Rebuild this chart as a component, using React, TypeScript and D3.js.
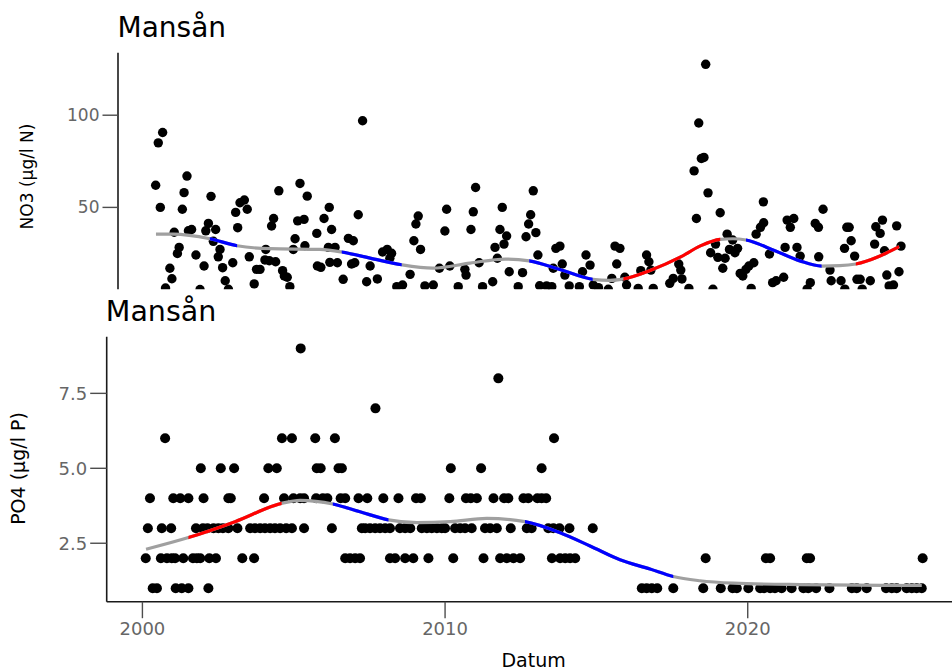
import React, { useEffect, useRef } from 'react';
import * as d3 from 'd3';

// NO3 samples: [decimal year, µg/l N]
const no3Points: [number, number][] = [
  [2000.12, 62], [2000.21, 85], [2000.28, 50], [2000.36, 90.6], [2000.46, 6.3], [2000.61, 17],
  [2000.68, 11.3], [2000.76, 36.5], [2000.87, 25], [2000.93, 28.3], [2001.04, 49], [2001.1, 58],
  [2001.2, 67], [2001.25, 37.3], [2001.36, 38], [2001.51, 24.2], [2001.65, 5.5], [2001.79, 18.2],
  [2001.85, 37.3], [2001.94, 41.3], [2002.03, 56], [2002.11, 31.6], [2002.19, 38], [2002.28, 23.2],
  [2002.34, 27.2], [2002.43, 17.3], [2002.52, 10.2], [2002.63, 5.6], [2002.78, 20], [2002.88, 47.3],
  [2002.95, 39], [2003.03, 52.5], [2003.18, 54], [2003.28, 49], [2003.35, 23.2], [2003.52, 8.5],
  [2003.6, 16.4], [2003.72, 16.4], [2003.89, 21.5], [2003.92, 27.2], [2004.04, 21.1], [2004.12, 39.9],
  [2004.19, 44], [2004.26, 20.5], [2004.37, 59], [2004.5, 15.7], [2004.56, 12.8], [2004.66, 12.1],
  [2004.75, 7], [2004.87, 27.2], [2004.93, 33], [2005.02, 42.7], [2005.1, 63], [2005.24, 43.5],
  [2005.27, 29.2], [2005.35, 56.1], [2005.68, 35.9], [2005.7, 18.2], [2005.82, 17.5], [2005.93, 44],
  [2006.08, 28.3], [2006.11, 50], [2006.13, 20.2], [2006.19, 38], [2006.31, 28.3], [2006.39, 20],
  [2006.59, 11], [2006.77, 33.2], [2006.88, 19.3], [2006.94, 31.9], [2006.99, 20], [2007.11, 46],
  [2007.26, 97], [2007.4, 9.7], [2007.52, 18.2], [2007.77, 11.2], [2007.95, 25.8], [2008.11, 27.2],
  [2008.2, 22.4], [2008.26, 25.1], [2008.44, 7], [2008.64, 7.9], [2008.9, 13.7], [2009.03, 31.9],
  [2009.1, 41], [2009.18, 45.3], [2009.26, 27.2], [2009.41, 7.4], [2009.7, 7.9], [2009.91, 17],
  [2010.1, 37.2], [2010.16, 49], [2010.27, 18.2], [2010.56, 7], [2010.79, 16.4], [2010.83, 13.3],
  [2011.0, 38], [2011.08, 47.6], [2011.16, 60.8], [2011.28, 20], [2011.4, 7], [2011.75, 9.7],
  [2011.83, 28.3], [2011.91, 22.4], [2012.0, 38], [2012.08, 50], [2012.14, 30.1], [2012.23, 34.5],
  [2012.32, 15.1], [2012.63, 7], [2012.78, 14.6], [2012.9, 34.1], [2012.99, 41], [2013.06, 46],
  [2013.15, 59], [2013.24, 36.3], [2013.31, 24.2], [2013.37, 7.5], [2013.61, 7.4], [2013.79, 7],
  [2013.84, 17], [2013.93, 27.8], [2014.07, 29], [2014.15, 19.3], [2014.24, 13.3], [2014.39, 7.4],
  [2014.74, 7], [2014.85, 15.1], [2014.97, 24.2], [2015.11, 18.7], [2015.22, 7.9], [2015.4, 6.5],
  [2015.74, 5.6], [2015.86, 11.5], [2015.97, 29], [2016.03, 19.3], [2016.14, 27.8], [2016.31, 12.1],
  [2016.37, 7.9], [2016.77, 6.1], [2016.86, 15.7], [2017.06, 24.2], [2017.14, 20.5], [2017.21, 16],
  [2017.29, 6.1], [2017.86, 8.8], [2017.98, 11.5], [2018.17, 19.3], [2018.24, 16], [2018.28, 11.2],
  [2018.52, 6.1], [2018.7, 69.8], [2018.78, 44], [2018.86, 95.8], [2018.95, 76.5], [2019.04, 77.1],
  [2019.1, 127.6], [2019.18, 57.9], [2019.27, 25.4], [2019.35, 5.6], [2019.44, 30.1], [2019.52, 22.9],
  [2019.6, 47.1], [2019.69, 17], [2019.77, 22.4], [2019.84, 35.5], [2019.92, 27.2], [2020.03, 32.3],
  [2020.11, 25.4], [2020.2, 27.8], [2020.29, 14.2], [2020.38, 12.8], [2020.49, 16.4], [2020.59, 18.2],
  [2020.67, 6.1], [2020.76, 20], [2020.84, 35.5], [2020.99, 39.2], [2021.09, 53], [2021.1, 41.7],
  [2021.3, 24.7], [2021.41, 9.2], [2021.53, 10.2], [2021.79, 12.1], [2021.84, 28.3], [2021.91, 43.1],
  [2022.02, 39.2], [2022.14, 44], [2022.25, 28.3], [2022.36, 23.6], [2022.6, 5.7], [2022.71, 9.2],
  [2022.88, 41.3], [2022.99, 39.2], [2023.0, 23.2], [2023.15, 49], [2023.39, 16], [2023.43, 10.2],
  [2023.77, 10.2], [2023.89, 27.8], [2023.9, 5.7], [2023.97, 39.2], [2024.05, 39.2], [2024.12, 31.9],
  [2024.24, 23.6], [2024.32, 11], [2024.43, 11], [2024.5, 5.7], [2024.78, 10.2], [2024.93, 30.1],
  [2024.97, 39.5], [2025.12, 35.9], [2025.2, 43.1], [2025.27, 26.5], [2025.35, 13.3], [2025.43, 7.4],
  [2025.58, 7.9], [2025.69, 40], [2025.77, 15.1], [2025.84, 29],
];

// NO3 trend curve (knots) and the stretches where it is significant
const no3Smooth: [number, number][] = [
  [2000.13, 35.5], [2000.72, 35.5], [2001.99, 33], [2002.93, 29.2], [2004.06, 27.6], [2005.79, 27.2],
  [2006.54, 25.8], [2007.52, 22.5], [2008.61, 18.9], [2009.69, 17.1], [2010.97, 19.8], [2012.18, 22],
  [2013.01, 21], [2014.07, 16.3], [2015.2, 11], [2015.8, 10.4], [2016.26, 11.2], [2017.18, 15.8],
  [2018.22, 23], [2018.9, 29], [2019.6, 32.7], [2020.04, 33], [2020.49, 32.3], [2021.49, 26.5],
  [2022.35, 21], [2023.1, 18.2], [2023.73, 18.4], [2024.28, 19.3], [2025.78, 28.7],
];
const no3Up: [number, number][] = [[2016.26, 2019.6], [2024.28, 2025.78]];
const no3Down: [number, number][] = [[2001.99, 2002.93], [2006.54, 2008.61], [2013.01, 2015.2], [2020.49, 2023.1]];

// PO4 samples: [decimal year, µg/l P]
const po4Points: [number, number][] = [
  [2000.34, 1], [2000.48, 1], [2001.1, 1], [2001.3, 1], [2001.52, 1], [2002.18, 1],
  [2016.5, 1], [2016.66, 1], [2016.83, 1], [2017.01, 1], [2017.54, 1], [2018.53, 1],
  [2019.11, 1], [2019.5, 1], [2019.64, 1], [2020.02, 1], [2020.41, 1], [2020.54, 1],
  [2020.74, 1], [2020.9, 1], [2021.12, 1], [2021.45, 1], [2021.84, 1], [2022.0, 1],
  [2022.26, 1], [2022.7, 1], [2023.44, 1], [2023.6, 1], [2023.93, 1], [2024.57, 1],
  [2024.76, 1], [2024.92, 1], [2025.25, 1], [2025.42, 1], [2025.58, 1], [2025.75, 1],
  [2000.11, 2], [2000.61, 2], [2000.81, 2], [2000.97, 2], [2001.08, 2], [2001.35, 2],
  [2001.67, 2], [2001.8, 2], [2001.91, 2], [2002.21, 2], [2002.43, 2], [2003.3, 2],
  [2003.69, 2], [2006.7, 2], [2006.86, 2], [2007.03, 2], [2007.19, 2], [2008.18, 2],
  [2008.35, 2], [2008.68, 2], [2008.95, 2], [2009.45, 2], [2010.27, 2], [2011.27, 2],
  [2011.82, 2], [2012.04, 2], [2012.26, 2], [2012.48, 2], [2013.53, 2], [2013.8, 2],
  [2013.97, 2], [2014.13, 2], [2014.3, 2], [2018.61, 2], [2020.6, 2], [2020.74, 2],
  [2021.95, 2], [2022.06, 2], [2025.78, 2],
  [2000.18, 3], [2000.64, 3], [2000.95, 3], [2001.77, 3], [2002.0, 3], [2002.15, 3],
  [2002.35, 3], [2002.51, 3], [2002.66, 3], [2002.84, 3], [2003.14, 3], [2003.56, 3],
  [2003.72, 3], [2003.89, 3], [2004.05, 3], [2004.22, 3], [2004.38, 3], [2004.55, 3],
  [2004.75, 3], [2004.94, 3], [2005.34, 3], [2006.26, 3], [2007.25, 3], [2007.36, 3],
  [2007.52, 3], [2007.69, 3], [2007.85, 3], [2008.02, 3], [2008.18, 3], [2008.51, 3],
  [2008.68, 3], [2008.85, 3], [2009.23, 3], [2009.4, 3], [2009.56, 3], [2009.73, 3],
  [2009.89, 3], [2010.0, 3], [2010.33, 3], [2010.5, 3], [2010.66, 3], [2010.88, 3],
  [2011.32, 3], [2011.49, 3], [2011.71, 3], [2012.17, 3], [2012.7, 3], [2012.86, 3],
  [2013.41, 3], [2013.58, 3], [2013.78, 3], [2014.11, 3], [2014.88, 3],
  [2000.25, 4], [2001.02, 4], [2001.25, 4], [2001.52, 4], [2002.02, 4], [2002.84, 4],
  [2002.92, 4], [2004.02, 4], [2004.68, 4], [2004.99, 4], [2005.21, 4], [2005.34, 4],
  [2005.74, 4], [2005.96, 4], [2006.11, 4], [2006.55, 4], [2006.7, 4], [2007.14, 4],
  [2007.43, 4], [2007.96, 4], [2008.46, 4], [2009.04, 4], [2009.2, 4], [2010.14, 4],
  [2010.69, 4], [2010.85, 4], [2011.05, 4], [2011.6, 4], [2011.95, 4], [2012.09, 4],
  [2012.59, 4], [2012.75, 4], [2013.05, 4], [2013.19, 4], [2013.34, 4],
  [2001.93, 5], [2002.59, 5], [2003.03, 5], [2004.16, 5], [2004.44, 5], [2005.76, 5],
  [2005.89, 5], [2006.48, 5], [2006.59, 5], [2010.19, 5], [2011.19, 5], [2013.19, 5],
  [2000.75, 6], [2004.61, 6], [2004.94, 6], [2005.71, 6], [2006.36, 6], [2013.6, 6],
  [2007.7, 7], [2011.76, 8], [2005.23, 9],
];

const po4Smooth: [number, number][] = [
  [2000.12, 2.3], [2001.52, 2.69], [2003.06, 3.22], [2004.6, 3.83], [2005.21, 3.93], [2006.29, 3.81],
  [2007.19, 3.55], [2008.13, 3.28], [2009.07, 3.19], [2010.17, 3.22], [2011.38, 3.33], [2012.64, 3.22],
  [2013.8, 2.85], [2014.79, 2.41], [2015.78, 1.95], [2016.77, 1.64], [2017.54, 1.39], [2018.42, 1.25],
  [2019.52, 1.17], [2021.73, 1.12], [2025.75, 1.09],
];
const po4Up: [number, number][] = [[2001.52, 2004.6]];
const po4Down: [number, number][] = [[2006.29, 2008.13], [2012.64, 2017.54]];

const title = 'Mansån';
const font = 'DejaVu Sans, Verdana, sans-serif';

type Panel = {
  id: string;
  points: [number, number][];
  smooth: [number, number][];
  up: [number, number][];
  down: [number, number][];
  x: d3.ScaleLinear<number, number>;
  y: d3.ScaleLinear<number, number>;
  yTicks: number[];
  yFormat: (v: number) => string;
  yLabel: string;
  yLabelX: number;
  yLabelY: number;
  yLabelSize: number;
  tickLen: number;
  tickSize: number;
  titleX: number;
  titleY: number;
  titleSize: number;
  clipBottom: number;
  r: number;
  xTicks: boolean;
};

const App = () => {
  const svgRef = useRef<SVGSVGElement>(null);

  useEffect(() => {
    const width = 952;
    const height = 672;
    const svg = d3.select(svgRef.current);
    svg.selectAll('*').remove();
    svg.attr('width', width).attr('height', height).style('font-family', font);
    svg.append('rect').attr('width', width).attr('height', height).attr('fill', '#fff');

    const domain = [1998.82, 2027.03];

    const panels: Panel[] = [
      {
        id: 'no3',
        points: no3Points, smooth: no3Smooth, up: no3Up, down: no3Down,
        x: d3.scaleLinear().domain(domain).range([118, 935.5]),
        y: d3.scaleLinear().domain([-5.7, 133.9]).range([310.1, 52.7]),
        yTicks: [50, 100], yFormat: d3.format('d'),
        yLabel: 'NO3 (µg/l N)', yLabelX: 33, yLabelY: 176.5, yLabelSize: 17,
        tickLen: 15.5, tickSize: 17,
        titleX: 117.5, titleY: 37, titleSize: 28,
        clipBottom: 289.3, r: 4.7, xTicks: false,
      },
      {
        id: 'po4',
        points: po4Points, smooth: po4Smooth, up: po4Up, down: po4Down,
        x: d3.scaleLinear().domain(domain).range([106.7, 960.5]),
        y: d3.scaleLinear().domain([0.55, 9.39]).range([601.7, 336.7]),
        yTicks: [2.5, 5, 7.5], yFormat: d3.format('.1f'),
        yLabel: 'PO4 (µg/l P)', yLabelX: 24.5, yLabelY: 468.5, yLabelSize: 19,
        tickLen: 16.5, tickSize: 18,
        titleX: 105.8, titleY: 321, titleSize: 28.5,
        clipBottom: 672, r: 5, xTicks: true,
      },
    ];

    panels.forEach(p => {
      const [x0] = p.x.range();
      const [yBottom, yTop] = p.y.range();
      const g = svg.append('g');

      // clip for the cut-off bottom of the upper plot
      const clipId = `clip-${p.id}`;
      svg.append('clipPath').attr('id', clipId)
        .append('rect').attr('x', 0).attr('y', 0).attr('width', width).attr('height', p.clipBottom);
      const body = g.append('g').attr('clip-path', `url(#${clipId})`);

      // points
      body.selectAll('circle')
        .data(p.points)
        .enter()
        .append('circle')
        .attr('cx', d => p.x(d[0]))
        .attr('cy', d => p.y(d[1]))
        .attr('r', p.r)
        .attr('fill', '#000');

      // trend line: grey base, coloured stretches via clip rects
      const line = d3.line<[number, number]>()
        .x(d => p.x(d[0]))
        .y(d => p.y(d[1]))
        .curve(d3.curveMonotoneX);
      const path = line(p.smooth) as string;
      body.append('path').attr('d', path).attr('fill', 'none')
        .attr('stroke', '#a0a0a0').attr('stroke-width', 3.2);

      const colored = [
        ...p.up.map(s => ({ s, c: '#ff0000' })),
        ...p.down.map(s => ({ s, c: '#0000ff' })),
      ];
      colored.forEach(({ s, c }, i) => {
        const id = `seg-${p.id}-${i}`;
        svg.append('clipPath').attr('id', id)
          .append('rect')
          .attr('x', p.x(s[0])).attr('y', 0)
          .attr('width', p.x(s[1]) - p.x(s[0])).attr('height', p.clipBottom);
        body.append('path').attr('d', path).attr('fill', 'none')
          .attr('stroke', c).attr('stroke-width', 3.2)
          .attr('clip-path', `url(#${id})`);
      });

      // y axis
      body.append('line')
        .attr('x1', x0).attr('x2', x0)
        .attr('y1', yTop).attr('y2', yBottom)
        .attr('stroke', '#1a1a1a').attr('stroke-width', 1.6);
      p.yTicks.forEach(t => {
        const yy = p.y(t);
        g.append('line')
          .attr('x1', x0 - p.tickLen).attr('x2', x0)
          .attr('y1', yy).attr('y2', yy)
          .attr('stroke', '#4d4d4d').attr('stroke-width', 1.4);
        g.append('text')
          .attr('x', x0 - p.tickLen - 3)
          .attr('y', yy)
          .attr('text-anchor', 'end')
          .attr('dominant-baseline', 'central')
          .attr('font-size', p.tickSize)
          .attr('fill', '#666')
          .text(p.yFormat(t));
      });

      g.append('text')
        .attr('transform', `translate(${p.yLabelX},${p.yLabelY}) rotate(-90)`)
        .attr('text-anchor', 'middle')
        .attr('font-size', p.yLabelSize)
        .attr('fill', '#000')
        .text(p.yLabel);

      g.append('text')
        .attr('x', p.titleX).attr('y', p.titleY)
        .attr('font-size', p.titleSize)
        .attr('fill', '#000')
        .text(title);

      if (p.xTicks) {
        g.append('line')
          .attr('x1', x0).attr('x2', width)
          .attr('y1', yBottom).attr('y2', yBottom)
          .attr('stroke', '#1a1a1a').attr('stroke-width', 1.6);
        [2000, 2010, 2020].forEach(t => {
          const xx = p.x(t);
          g.append('line')
            .attr('x1', xx).attr('x2', xx)
            .attr('y1', yBottom).attr('y2', yBottom + 16.5)
            .attr('stroke', '#4d4d4d').attr('stroke-width', 1.4);
          g.append('text')
            .attr('x', xx).attr('y', yBottom + 33.5)
            .attr('text-anchor', 'middle')
            .attr('font-size', p.tickSize)
            .attr('fill', '#666')
            .text(String(t));
        });
        const [xa, xb] = p.x.range();
        g.append('text')
          .attr('x', (xa + xb) / 2).attr('y', 667)
          .attr('text-anchor', 'middle')
          .attr('font-size', 19)
          .attr('fill', '#000')
          .text('Datum');
      }
    });
  }, []);

  return (
    <div style={{ position: 'absolute', left: 0, top: 0 }}>
      <svg ref={svgRef} width={952} height={672} style={{ display: 'block' }}></svg>
    </div>
  );
};

export default App;
